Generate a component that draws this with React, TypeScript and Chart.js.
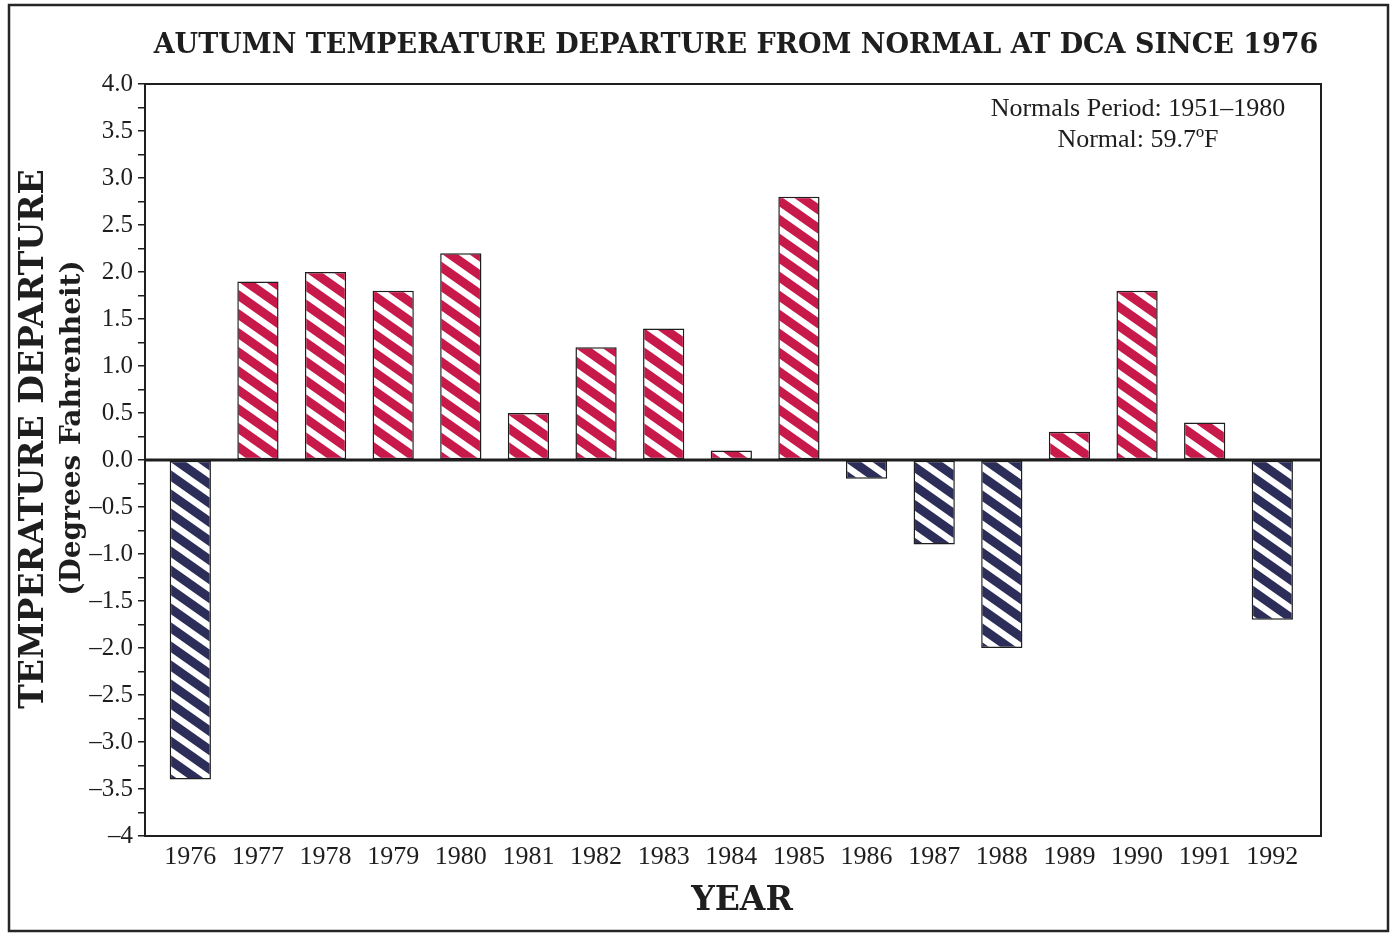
import React, { useEffect, useRef } from "react";
import { Chart, registerables } from "chart.js";

Chart.register(...registerables);

const YEARS = [1976, 1977, 1978, 1979, 1980, 1981, 1982, 1983, 1984, 1985, 1986, 1987, 1988, 1989, 1990, 1991, 1992];
const DEPARTURES = [-3.4, 1.9, 2.0, 1.8, 2.2, 0.5, 1.2, 1.4, 0.1, 2.8, -0.2, -0.9, -2.0, 0.3, 1.8, 0.4, -1.7];
const Y_TICK_VALUES = [4, 3.5, 3, 2.5, 2, 1.5, 1, 0.5, 0, -0.5, -1, -1.5, -2, -2.5, -3, -3.5, -4];
const Y_TICK_LABELS = ["4.0", "3.5", "3.0", "2.5", "2.0", "1.5", "1.0", "0.5", "0.0", "–0.5", "–1.0", "–1.5", "–2.0", "–2.5", "–3.0", "–3.5", "–4"];
const TITLE = "AUTUMN TEMPERATURE DEPARTURE FROM NORMAL AT DCA SINCE 1976";
const Y_TITLE = "TEMPERATURE DEPARTURE";
const Y_SUBTITLE = "(Degrees Fahrenheit)";
const X_TITLE = "YEAR";
const NOTE_LINES = ["Normals Period: 1951–1980", "Normal: 59.7ºF"];

const WARM = "#c8194b";
const COOL = "#2c2d58";
const INK = "#1e1e1e";

function makeStripes(color: string): CanvasPattern | string {
  const W = 27;
  const H = 19;
  const t = 8;
  const c = document.createElement("canvas");
  c.width = W;
  c.height = H;
  const g = c.getContext("2d");
  if (!g) return color;
  g.fillStyle = color;
  g.fillRect(0, 0, W, H);
  g.fillStyle = "#ffffff";
  for (let k = -2; k <= 1; k++) {
    g.beginPath();
    g.moveTo(0, k * H);
    g.lineTo(W, k * H + H);
    g.lineTo(W, k * H + H + t);
    g.lineTo(0, k * H + t);
    g.closePath();
    g.fill();
  }
  const p = g.createPattern(c, "repeat");
  return p || color;
}

const decorPlugin = {
  id: "decor",
  afterDraw(chart: any) {
    const ctx = chart.ctx as CanvasRenderingContext2D;
    const { left, right, top, bottom } = chart.chartArea;
    const yScale = chart.scales.y;
    ctx.save();
    // outer frame
    ctx.strokeStyle = "#262626";
    ctx.lineWidth = 2.5;
    ctx.strokeRect(9, 5, 1379, 926);
    // plot frame
    ctx.lineWidth = 2;
    ctx.strokeStyle = INK;
    ctx.strokeRect(left, top, right - left, bottom - top);
    // zero line
    const y0 = yScale.getPixelForValue(0);
    ctx.lineWidth = 3;
    ctx.beginPath();
    ctx.moveTo(left, y0);
    ctx.lineTo(right, y0);
    ctx.stroke();

    ctx.fillStyle = INK;
    ctx.textAlign = "center";
    ctx.textBaseline = "middle";
    // title
    ctx.font = 'bold 27px "DejaVu Serif"';
    ctx.fillText(TITLE, 736, 46);
    // x title
    ctx.font = 'bold 33px "DejaVu Serif"';
    ctx.fillText(X_TITLE, 742, 901);
    // note
    ctx.font = '26px "Liberation Serif"';
    ctx.fillText(NOTE_LINES[0], 1138, 109);
    ctx.fillText(NOTE_LINES[1], 1138, 140);
    // y titles
    ctx.save();
    ctx.translate(34, 439);
    ctx.rotate(-Math.PI / 2);
    ctx.font = 'bold 33px "DejaVu Serif"';
    ctx.fillText(Y_TITLE, 0, 0);
    ctx.restore();
    ctx.save();
    ctx.translate(73, 428);
    ctx.rotate(-Math.PI / 2);
    ctx.font = 'bold 28px "DejaVu Serif"';
    ctx.fillText(Y_SUBTITLE, 0, 0);
    ctx.restore();
    ctx.restore();
  },
};

export default function App() {
  const ref = useRef<HTMLCanvasElement | null>(null);

  useEffect(() => {
    document.body.style.margin = "0";
    const canvas = ref.current;
    if (!canvas) return;
    const warm = makeStripes(WARM);
    const cool = makeStripes(COOL);
    const chart = new Chart(canvas, {
      type: "bar",
      data: {
        datasets: [
          {
            data: YEARS.map((yr, i) => ({ x: yr, y: DEPARTURES[i] })),
            backgroundColor: DEPARTURES.map((v) => (v >= 0 ? warm : cool)) as any,
            borderColor: INK,
            borderWidth: 1.5,
            borderSkipped: false,
            categoryPercentage: 1,
            barPercentage: 0.61,
          },
        ],
      },
      options: {
        animation: false,
        responsive: false,
        maintainAspectRatio: false,
        layout: { padding: { left: 85, top: 84, right: 69, bottom: 58 } },
        plugins: {
          legend: { display: false },
          tooltip: { enabled: false },
          title: { display: false },
        },
        scales: {
          x: {
            type: "linear",
            offset: false,
            min: 1975.33,
            max: 1992.72,
            afterBuildTicks: (scale: any) => {
              scale.ticks = YEARS.map((v) => ({ value: v }));
            },
            afterFit: (scale: any) => {
              scale.height = 40;
            },
            grid: { display: false, drawTicks: false, offset: false },
            border: { display: false },
            ticks: {
              autoSkip: false,
              maxRotation: 0,
              padding: 6,
              color: INK,
              font: { family: '"Liberation Serif"', size: 26 },
              callback: (v: any) => String(v),
            },
          },
          y: {
            type: "linear",
            min: -4,
            max: 4,
            afterFit: (scale: any) => {
              scale.width = 60;
            },
            grid: {
              drawOnChartArea: false,
              drawTicks: true,
              tickLength: 7,
              color: INK,
              lineWidth: 1.5,
            },
            border: { display: false },
            ticks: {
              stepSize: 0.25,
              autoSkip: false,
              padding: 5,
              color: INK,
              font: { family: '"Liberation Serif"', size: 25 },
              callback: (value: any) => {
                const i = Y_TICK_VALUES.findIndex((t) => Math.abs(t - Number(value)) < 1e-6);
                return i >= 0 ? Y_TICK_LABELS[i] : "";
              },
            },
          },
        },
      },
      plugins: [decorPlugin],
    });
    return () => chart.destroy();
  }, []);

  return (
    <div style={{ width: 1390, height: 934, background: "#fff" }}>
      <canvas ref={ref} width={1390} height={934} style={{ display: "block" }} />
    </div>
  );
}
